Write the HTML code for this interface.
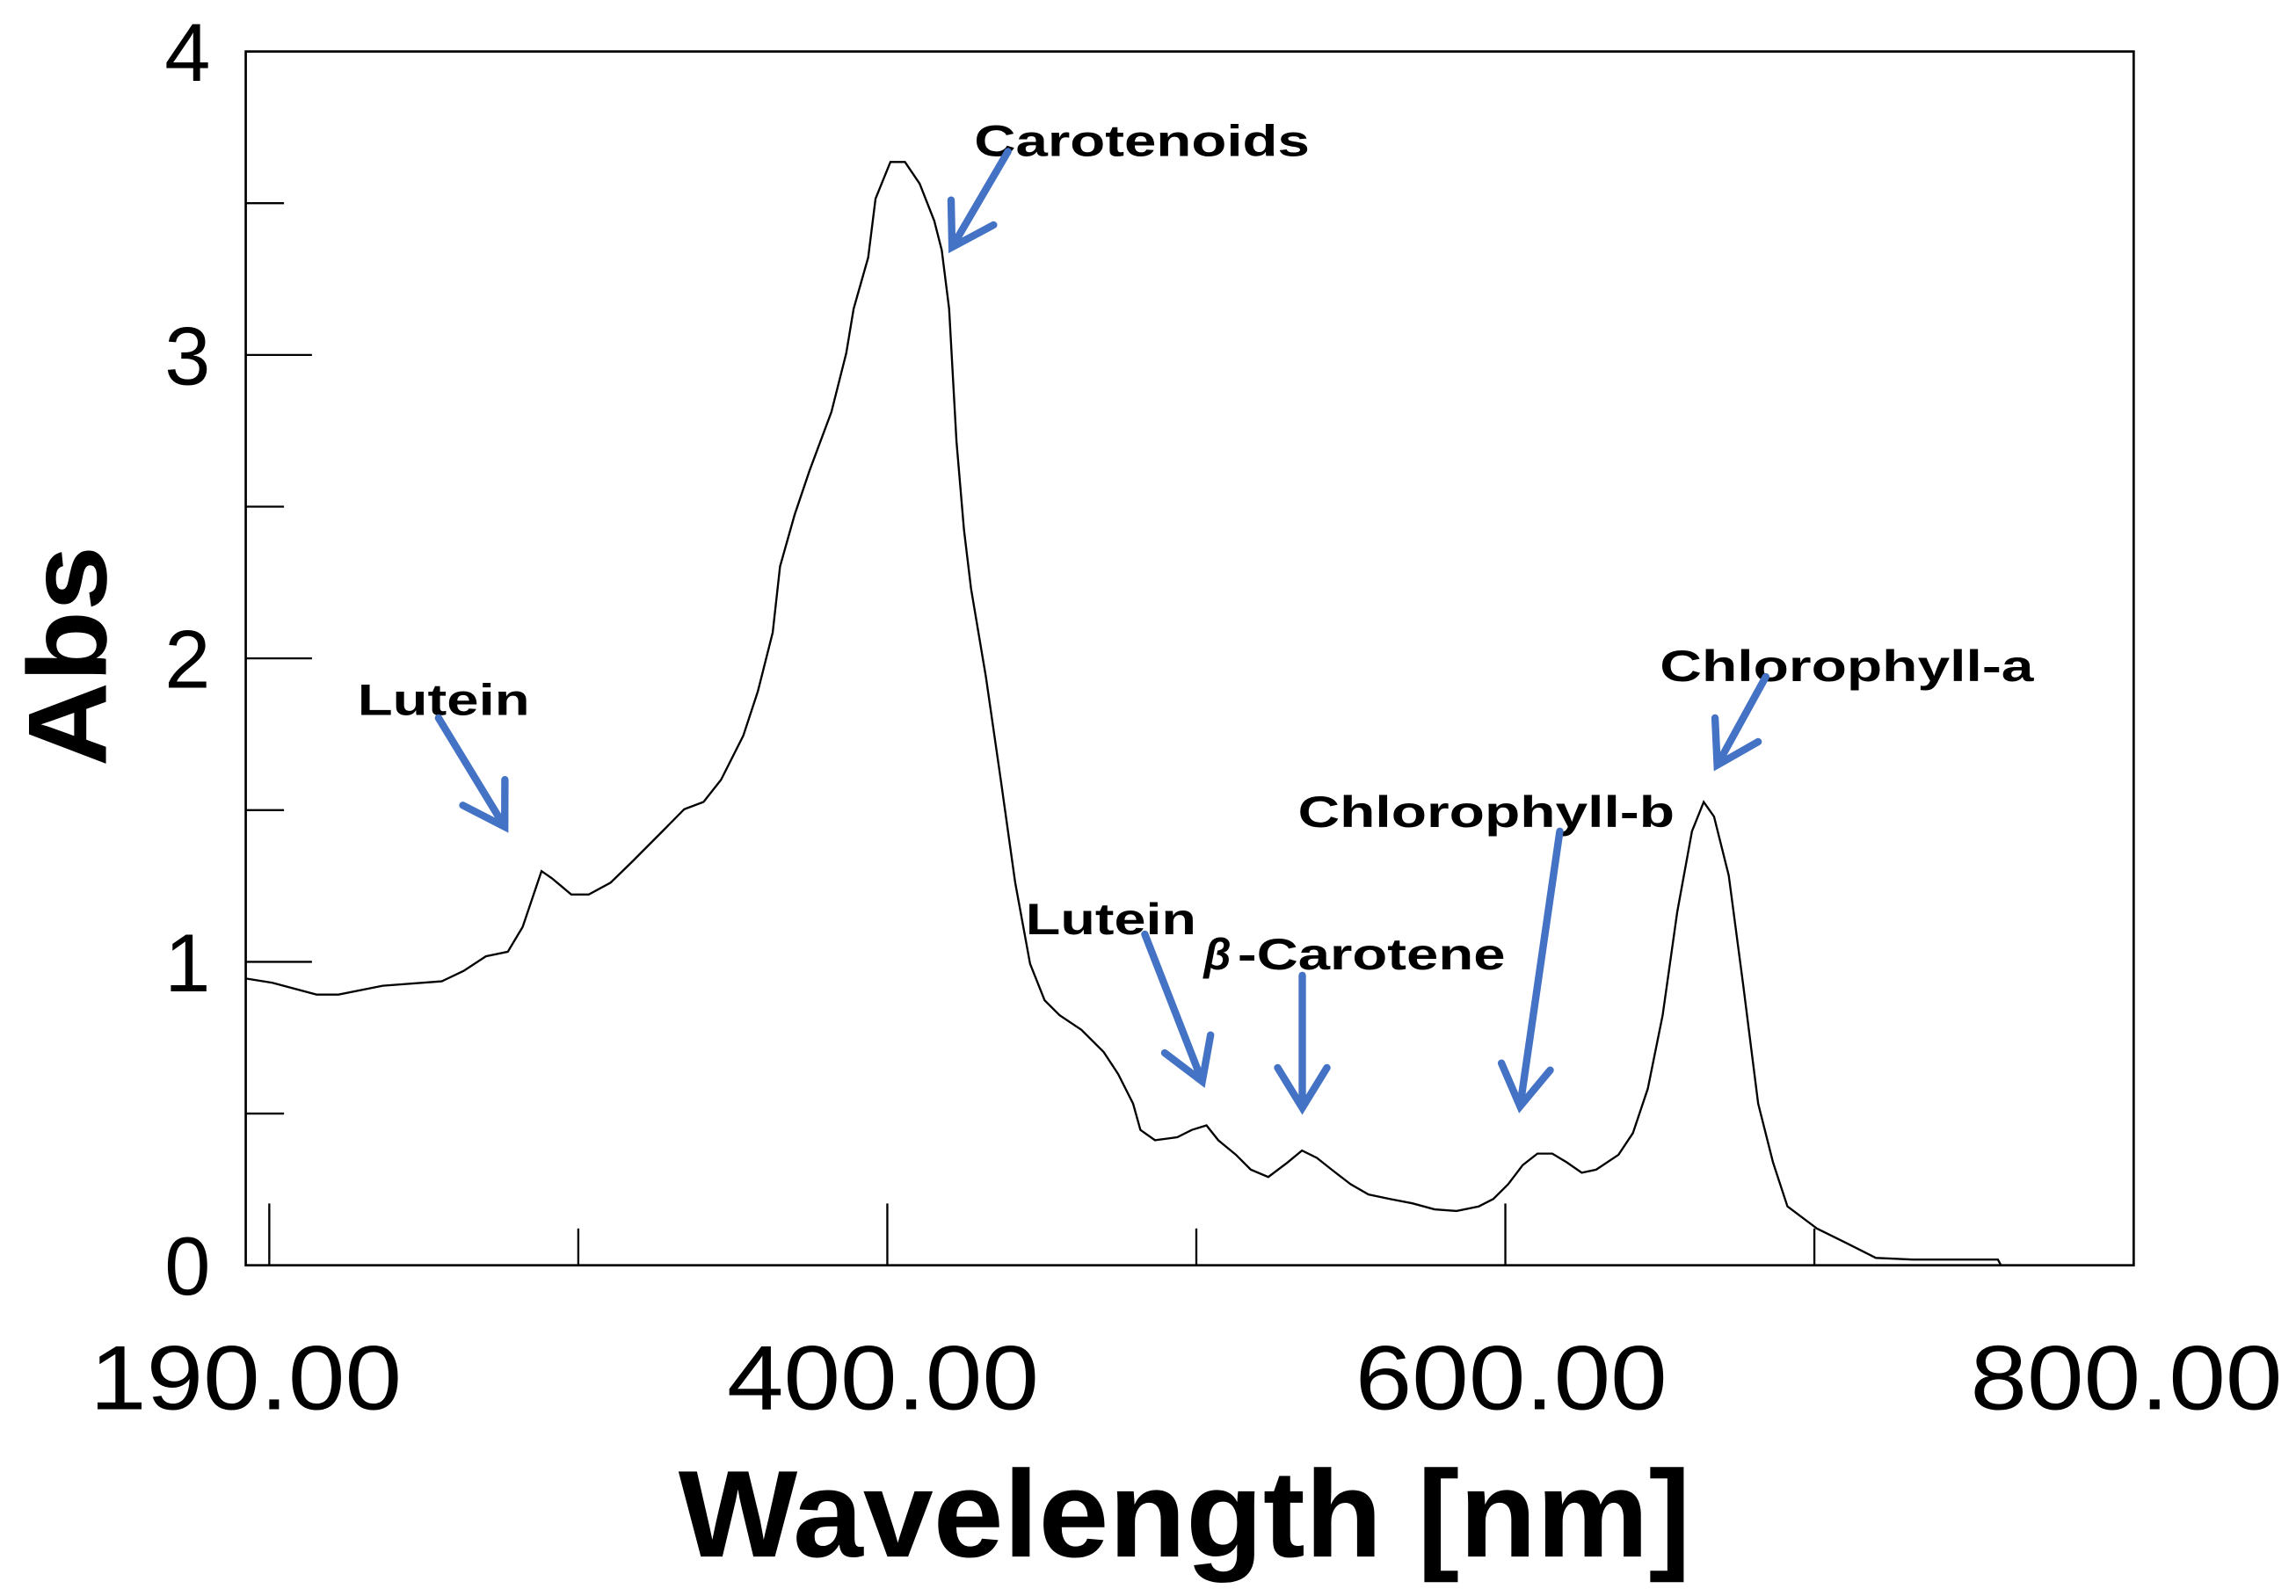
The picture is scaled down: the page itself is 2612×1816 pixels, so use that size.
<!DOCTYPE html>
<html><head><meta charset="utf-8"><style>
html,body{margin:0;padding:0;background:#fff;}
svg{display:block;}
text{font-family:"Liberation Sans",sans-serif;}
</style></head><body>
<svg id="chart" width="2612" height="1816" viewBox="0 0 1560.3 1084.8" xmlns="http://www.w3.org/2000/svg">
<rect x="0" y="0" width="1560.3" height="1084.8" fill="#fff"/>
<rect x="167" y="35" width="1283" height="825" fill="none" stroke="#000" stroke-width="1.6"/>
<g id="ticks"></g>
<g id="labels"></g>
<polyline id="spectrum" fill="none" stroke="#000" stroke-width="1.4" stroke-linejoin="miter"/>
<text x="805" y="1058" text-anchor="middle" font-weight="bold" font-size="84" textLength="688" lengthAdjust="spacingAndGlyphs">Wavelength [nm]</text>
<text transform="translate(72,446) rotate(-90)" text-anchor="middle" font-weight="bold" font-size="76" textLength="150" lengthAdjust="spacingAndGlyphs">Abs</text>
<g id="annotations" font-weight="bold" font-size="30" fill="#000"></g>
<g id="arrows" stroke="#4472C4" stroke-width="5" fill="none" stroke-linecap="round" stroke-linejoin="miter"></g>
</svg>
<script>
const wavelengths = [192.4,201.0,215.3,222.4,236.7,255.8,262.9,270.1,277.2,282.0,288.1,291.5,297.7,303.4,310.5,317.7,327.2,334.3,340.5,346.2,353.4,358.1,362.9,365.3,370.0,374.8,381.9,386.7,389.1,393.8,396.2,401.0,405.7,410.5,415.2,417.6,420.0,422.4,424.8,427.1,431.9,436.7,441.4,446.2,450.9,455.7,462.8,470.0,474.7,479.5,481.9,486.6,493.8,498.5,503.3,507.1,512.8,517.6,523.3,529.5,534.2,539.0,543.8,549.9,555.7,562.8,569.9,577.1,584.2,591.4,596.1,600.9,605.6,610.4,615.2,619.9,624.7,629.4,636.6,641.3,646.1,650.9,655.6,660.4,664.2,667.5,672.3,677.0,681.8,686.6,691.3,700.8,710.4,719.9,731.8,759.4,760.4];
const absorbance = [0.945,0.931,0.892,0.892,0.921,0.936,0.970,1.018,1.033,1.115,1.299,1.275,1.222,1.222,1.261,1.333,1.430,1.503,1.527,1.600,1.745,1.891,2.085,2.303,2.473,2.618,2.812,3.006,3.152,3.321,3.515,3.636,3.636,3.564,3.442,3.345,3.152,2.715,2.424,2.230,1.939,1.600,1.261,0.994,0.873,0.824,0.776,0.703,0.630,0.533,0.446,0.412,0.422,0.446,0.461,0.412,0.364,0.315,0.291,0.339,0.378,0.354,0.315,0.267,0.233,0.218,0.204,0.184,0.179,0.194,0.218,0.267,0.330,0.368,0.368,0.339,0.305,0.315,0.364,0.436,0.582,0.824,1.164,1.430,1.527,1.479,1.285,0.921,0.533,0.339,0.194,0.121,0.073,0.024,0.019,0.019,0];
const yTickLabels = ["0","1","2","3","4"];
const yTickValues = [0,1,2,3,4];
const yMinorValues = [0.5,1.5,2.5,3.5];
const xTickLabels = ["190.00","400.00","600.00","800.00"];
const xTickLabelValues = [190,400,600,800];
const xMajorTicks = [200,400,600];
const xMinorTicks = [300,500,700];

const NS = "http://www.w3.org/2000/svg";
function xs(nm){ return 603 + (nm - 400) * 2.1; }
function ys(a){ return 860 - a * 206.25; }

const pts = wavelengths.map((w,i)=> xs(w).toFixed(1)+","+ys(absorbance[i]).toFixed(1)).join(" ");
document.getElementById("spectrum").setAttribute("points", pts);

const tg = document.getElementById("ticks");
const lg = document.getElementById("labels");
function line(x1,y1,x2,y2,name){
  const l = document.createElementNS(NS,"line");
  l.setAttribute("x1",x1);l.setAttribute("y1",y1);l.setAttribute("x2",x2);l.setAttribute("y2",y2);
  l.setAttribute("stroke","#000");l.setAttribute("stroke-width","1.4");
  
  
  tg.appendChild(l);
}
yTickValues.forEach(v=>{ if(v>0 && v<4) line(167,ys(v),212,ys(v),"y-major-tick"); });
yMinorValues.forEach(v=>{ line(167,ys(v),193,ys(v),"y-minor-tick"); });
xMajorTicks.forEach(v=>{ line(xs(v),818,xs(v),860,"x-major-tick"); });
xMinorTicks.forEach(v=>{ line(xs(v),835,xs(v),860,"x-minor-tick"); });

yTickLabels.forEach((t,i)=>{
  const e = document.createElementNS(NS,"text");
  e.setAttribute("x",143);e.setAttribute("y",ys(yTickValues[i])+20);
  e.setAttribute("text-anchor","end");e.setAttribute("font-size","56");
  e.textContent = t;
  
  
  lg.appendChild(e);
});
const xLabelPos = {190:167,400:600,600:1027,800:1445};
xTickLabels.forEach((t,i)=>{
  const e = document.createElementNS(NS,"text");
  e.setAttribute("x",xLabelPos[xTickLabelValues[i]]);e.setAttribute("y",958);
  e.setAttribute("text-anchor","middle");e.setAttribute("font-size","62");
  e.setAttribute("textLength","212");e.setAttribute("lengthAdjust","spacingAndGlyphs");
  e.textContent = t;
  
  
  lg.appendChild(e);
});

const annTexts = ["Carotenoids","Lutein","Lutein","-Carotene","Chlorophyll-b","Chlorophyll-a"];
const annX = [662,243,697,841,882,1128];
const annY = [106,486,635,659,562,463];
const annW = [228,117,116,182,256,254];
const ag = document.getElementById("annotations");
annTexts.forEach((t,i)=>{
  const e = document.createElementNS(NS,"text");
  e.setAttribute("x",annX[i]);e.setAttribute("y",annY[i]);
  e.setAttribute("textLength",annW[i]);e.setAttribute("lengthAdjust","spacingAndGlyphs");
  e.textContent = t;
  
  
  ag.appendChild(e);
});
const beta = document.createElementNS(NS,"text");
beta.setAttribute("x",818);beta.setAttribute("y",659);beta.setAttribute("font-style","italic");
beta.textContent = "β";


ag.appendChild(beta);

const arrowFrom = [[685,103],[298,488],[778,635],[885,663],[1060,565],[1200,460]];
const arrowTo = [[647,168],[343,562],[817,735],[885,753],[1033,752],[1167,520]];
const arg = document.getElementById("arrows");
arrowFrom.forEach((f,i)=>{
  const t = arrowTo[i];
  const dx=t[0]-f[0], dy=t[1]-f[1], L=Math.hypot(dx,dy), ux=dx/L, uy=dy/L;
  const h=32, s=0.55;
  const ax = t[0]-h*(ux*Math.cos(s)-uy*Math.sin(s)), ay=t[1]-h*(uy*Math.cos(s)+ux*Math.sin(s));
  const bx = t[0]-h*(ux*Math.cos(-s)-uy*Math.sin(-s)), by=t[1]-h*(uy*Math.cos(-s)+ux*Math.sin(-s));
  const p = document.createElementNS(NS,"path");
  p.setAttribute("d",`M${f[0]},${f[1]} L${t[0]},${t[1]} M${ax},${ay} L${t[0]},${t[1]} L${bx},${by}`);
  
  
  arg.appendChild(p);
});
</script>
</body></html>
